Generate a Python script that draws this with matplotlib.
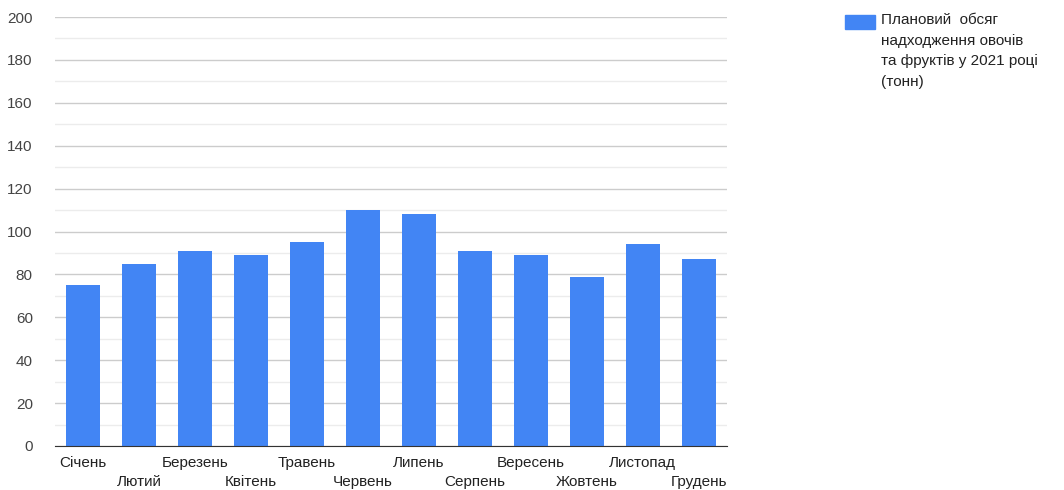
import matplotlib
matplotlib.use("Agg")
import matplotlib.pyplot as plt
from matplotlib.patches import Rectangle
import numpy as np

months = ["Січень", "Лютий", "Березень", "Квітень", "Травень", "Червень",
          "Липень", "Серпень", "Вересень", "Жовтень", "Листопад", "Грудень"]
values = [75, 85, 91, 89, 95, 110, 108, 91, 89, 79, 94, 87]
legend_label = "Плановий  обсяг\nнадходження овочів\nта фруктів у 2021 році\n(тонн)"
yticks = list(range(0, 201, 20))

plt.rcParams['font.family'] = ['Liberation Sans', 'DejaVu Sans']
bar_color = "#4285f4"

fig = plt.figure(figsize=(10.64, 4.9), dpi=100)
ax = fig.add_axes([0.0517, 0.0898, 0.6313, 0.8755])

x = np.arange(len(months))
bars = ax.bar(x, values, width=0.61, color=bar_color, zorder=3)

ax.set_xlim(-0.5, len(months) - 0.5)
ax.set_ylim(0, 200)
ax.set_yticks(yticks)
ax.set_yticks(list(range(10, 200, 20)), minor=True)
ax.yaxis.grid(True, which="major", color="#cccccc", linewidth=1, zorder=0)
ax.yaxis.grid(True, which="minor", color="#ececec", linewidth=1, zorder=0)
ax.tick_params(axis="y", which="both", length=0, labelsize=11, labelcolor="#444444", pad=16)

ax.set_xticks(x)
ax.set_xticklabels([])
ax.tick_params(axis="x", length=0)
for i, m in enumerate(months):
    yoff = -0.04 if i % 2 == 0 else -0.085
    ax.text(i, yoff, m, transform=ax.get_xaxis_transform(), ha="center", va="center",
            fontsize=11, color="#222222")

for s in ["top", "right", "left"]:
    ax.spines[s].set_visible(False)
ax.spines["bottom"].set_color("#333333")
ax.spines["bottom"].set_zorder(4)

# legend (manual, marker aligned with first line)
W, H = 1064, 490
fig.patches.append(Rectangle((845 / W, 1 - 29 / H), 30 / W, 14 / H,
                             transform=fig.transFigure, color=bar_color))
fig.text(881 / W, 1 - 13 / H, legend_label, ha="left", va="top", fontsize=11,
         color="#222222", linespacing=1.6)

fig.savefig("out.png", dpi=100)
